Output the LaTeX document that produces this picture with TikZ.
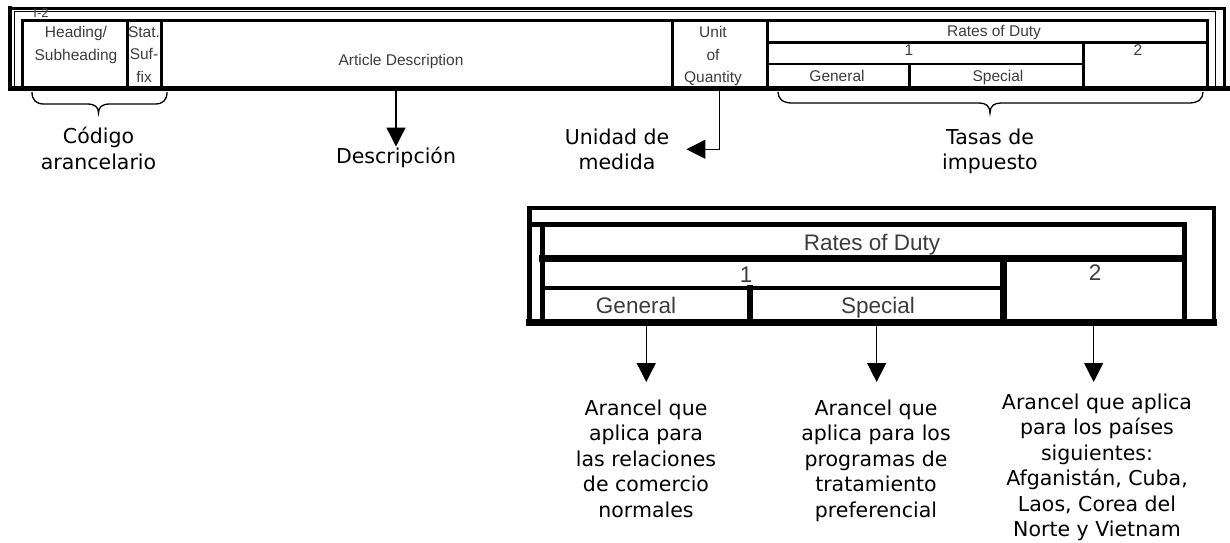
\documentclass[tikz,border=0pt]{standalone}
\usepackage{fontspec}
\setmainfont{DejaVu Sans}
\newfontfamily\arialf{Liberation Sans}
\usetikzlibrary{arrows.meta}
\definecolor{tgray}{RGB}{60,60,60}
\tikzset{
  lab/.style={anchor=north, inner sep=0pt, align=center, font=\fontsize{20.5}{25.5}\selectfont},
  ttop/.style={inner sep=0pt, align=center, text=tgray, font=\arialf\fontsize{15.5}{22.5}\selectfont},
  tbot/.style={inner sep=0pt, align=center, text=tgray, font=\arialf\fontsize{22.5}{28}\selectfont},
  cell/.style={inner sep=0pt, outer sep=0pt, draw=none},
  arr/.style={line width=1.3pt, -{Triangle[length=19pt,width=19pt]}},
  brace/.style={line width=1.3pt},
  frame/.style={line cap=rect}
}
\begin{document}
\begin{tikzpicture}[x=1pt,y=-1pt]
\useasboundingbox (0,0) rectangle (1230,542);

% ---------- top frame ----------
\begin{scope}[frame]
\draw[line width=3pt] (10,8) -- (1224,8) -- (1224,88.3);
\draw[line width=3.3pt] (10,8) -- (10,88.3);
\draw[line width=1pt] (14,88) -- (14,11.5) -- (1215,11.5) -- (1215,88);
\end{scope}

% ---------- top table texts ----------
\node[ttop, anchor=base, font=\arialf\fontsize{13}{15}\selectfont] (itwo) at (41,17.5) {I-2};
\node[ttop, anchor=north] (heading) at (76,26.3) {Heading/\\Subheading};
\node[ttop, anchor=north] (stat) at (144,26.3) {Stat.\\Suf-\\fix};
\node[ttop, anchor=base] (artT) at (401,65) {Article Description};
\node[ttop, anchor=north] (unitT) at (713,26.3) {Unit\\of\\Quantity};
\node[ttop, anchor=base] (tRates) at (994,36) {Rates of Duty};
\node[ttop, anchor=base] (tOne) at (909,55) {1};
\node[ttop, anchor=base] (tTwo) at (1138,55) {2};
\node[ttop, anchor=base] (tGen) at (837,81) {General};
\node[ttop, anchor=base] (tSpe) at (998,81) {Special};

% cells used as connector ends
\node[cell, minimum width=511pt, minimum height=69.7pt] (artCell) at (416.5,55.65) {};
\node[cell, minimum width=95pt, minimum height=69.7pt] (unitCell) at (719.5,55.65) {};

\begin{scope}[frame]
\draw[line width=3pt] (22.3,20.8) rectangle (1207,87);
\foreach \xx in {127.5,161,672,767} \draw[line width=3pt] (\xx,20.8) -- (\xx,87);
\draw[line width=3pt] (767,42) -- (1207,42);
\draw[line width=1.8pt] (767,64) -- (1083,64);
\draw[line width=3pt] (1083,42) -- (1083,87);
\draw[line width=3pt] (909,64) -- (909,87);
\draw[line width=4.5pt] (10,88.3) -- (1230,88.3);
\end{scope}

% ---------- braces ----------
\draw[brace] (32,92) .. controls (32,100) and (36,104) .. (44,104) -- (87,104)
  .. controls (95,104) and (98.5,107) .. (98.5,113)
  .. controls (98.5,107) and (102,104) .. (110,104) -- (155,104)
  .. controls (163,104) and (167,100) .. (167,92);
\draw[brace] (778,92) .. controls (778,99) and (783,103) .. (792,103) -- (979,103)
  .. controls (986,103) and (990,106) .. (990,113)
  .. controls (990,106) and (994,103) .. (1001,103) -- (1189,103)
  .. controls (1198,103) and (1203,99) .. (1203,92);

% ---------- top labels ----------
\node[lab] (codigo) at (98.5,127) {Código\\arancelario};
\node[lab] (descr) at (396,146.5) {Descripción};
\node[lab] (unidad) at (617,128.4) {Unidad de\\medida};
\node[lab] (tasas) at (990,128.4) {Tasas de\\impuesto};

\draw[arr] (descr.north |- artCell.south) -- (descr.north);
\draw[arr] (unitCell.south) |- ([xshift=17pt]unidad.east);

% ---------- bottom table texts ----------
\node[tbot, anchor=base] (bRates) at (872,250) {Rates of Duty};
\node[tbot, anchor=base] (bOne) at (746,282) {1};
\node[tbot, anchor=base] (bTwo) at (1095,280) {2};
\node[tbot, anchor=base] (bGenT) at (636,313) {General};
\node[tbot, anchor=base] (bSpeT) at (878,313) {Special};

\node[cell, minimum width=207.5pt, minimum height=37.7pt] (bGen) at (646.25,306.9) {};
\node[cell, minimum width=253.3pt, minimum height=37.7pt] (bSpe) at (876.65,306.9) {};
\node[cell, minimum width=180.7pt, minimum height=67.45pt] (bTwoCell) at (1093.65,292.02) {};

% ---------- bottom frame ----------
\begin{scope}[frame]
\draw[line width=4pt] (529,208) -- (1214,208) -- (1214,322.5);
\draw[line width=5pt] (529,208) -- (529,322.5);
\draw[line width=5pt] (529,224) -- (1184,224);
\draw[line width=5pt] (542.5,224) -- (542.5,322.5);
\draw[line width=5pt] (1184,224) -- (1184,322.5);
\draw[line width=6.5pt] (542.5,258.3) -- (1184,258.3);
\draw[line width=3.5pt] (542.5,288) -- (1003.3,288);
\draw[line width=6.5pt] (1003.3,258.3) -- (1003.3,322.5);
\draw[line width=6.5pt] (750,288) -- (750,322.5);
\draw[line width=6.5pt] (529,322.5) -- (1214,322.5);
\end{scope}

% ---------- bottom labels ----------
\node[lab] (l1) at (646,399.4) {Arancel que\\aplica para\\las relaciones\\de comercio\\normales};
\node[lab] (l2) at (876,399.4) {Arancel que\\aplica para los\\programas de\\tratamiento\\preferencial};
\node[lab] (l3) at (1097,393.4) {Arancel que aplica\\para los países\\siguientes:\\Afganistán, Cuba,\\Laos, Corea del\\Norte y Vietnam};

\draw[arr, shorten >=17.4pt] (bGen.south) -- (bGen.south |- l1.north);
\draw[arr, shorten >=17.4pt] (bSpe.south) -- (bSpe.south |- l2.north);
\draw[arr, shorten >=11.4pt] (bTwoCell.south) -- (bTwoCell.south |- l3.north);
\end{tikzpicture}
\end{document}
